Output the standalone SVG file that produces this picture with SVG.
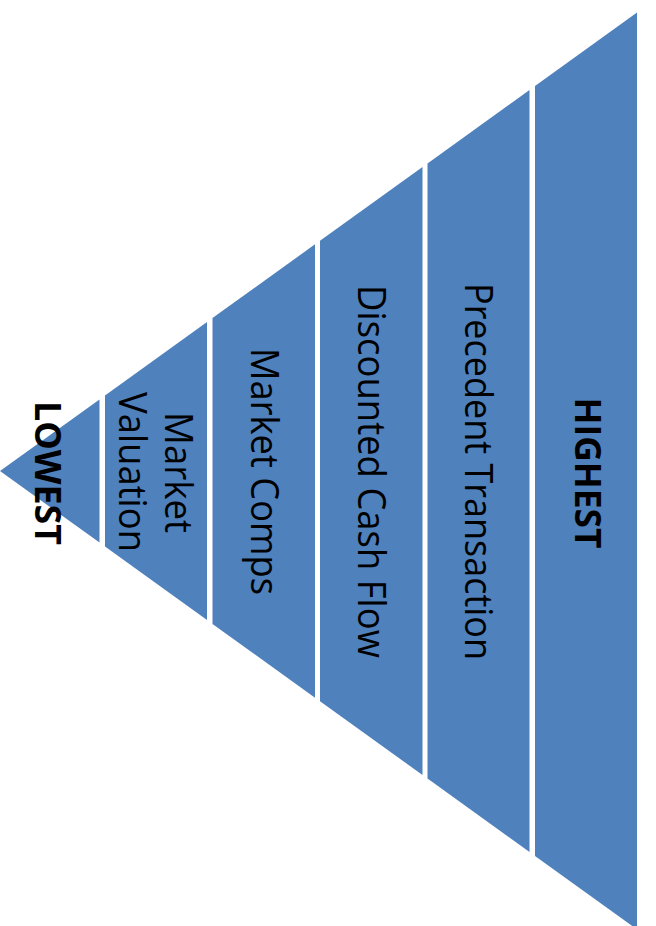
<svg xmlns="http://www.w3.org/2000/svg" width="656" height="926" viewBox="0 0 656 926">
<style>
.seg{fill:#4F81BD;}
.t{font-family:"Open Sans","Noto Sans","Liberation Sans",sans-serif;font-size:38px;fill:#000;text-anchor:middle;}
.b{font-weight:bold;font-size:36px;}
</style>
<rect width="656" height="926" fill="#fff"/>
<g id="seg1"><polygon class="seg" points="0,471 99.5,399.4 99.5,542.6"/>
<text class="t b" x="35" y="473" transform="rotate(90 35 473)" textLength="144" lengthAdjust="spacingAndGlyphs">LOWEST</text></g>
<g id="seg2"><polygon class="seg" points="105,395.4 207,322 207,620 105,546.6"/>
<text class="t" x="165" y="472.5" transform="rotate(90 165 472.5)" textLength="121" lengthAdjust="spacingAndGlyphs">Market</text>
<text class="t" x="119" y="472" transform="rotate(90 119 472)" textLength="160" lengthAdjust="spacingAndGlyphs">Valuation</text></g>
<g id="seg3"><polygon class="seg" points="212.5,318.1 315,244.3 315,697.7 212.5,623.9"/>
<text class="t" x="251" y="471.5" transform="rotate(90 251 471.5)" textLength="247" lengthAdjust="spacingAndGlyphs">Market Comps</text></g>
<g id="seg4"><polygon class="seg" points="320,240.7 422.5,167 422.5,775 320,701.3"/>
<text class="t" x="358" y="471.5" transform="rotate(90 358 471.5)" textLength="373" lengthAdjust="spacingAndGlyphs">Discounted Cash Flow</text></g>
<g id="seg5"><polygon class="seg" points="427.5,163.4 529.5,90 529.5,852 427.5,778.6"/>
<text class="t" x="465" y="471.5" transform="rotate(90 465 471.5)" textLength="377" lengthAdjust="spacingAndGlyphs">Precedent Transaction</text></g>
<g id="seg6"><polygon class="seg" points="535,86 637,12.6 637,929.4 535,856"/>
<text class="t b" x="575" y="473" transform="rotate(90 575 473)" textLength="151" lengthAdjust="spacingAndGlyphs">HIGHEST</text></g>
<g id="connectors"></g>
</svg>
